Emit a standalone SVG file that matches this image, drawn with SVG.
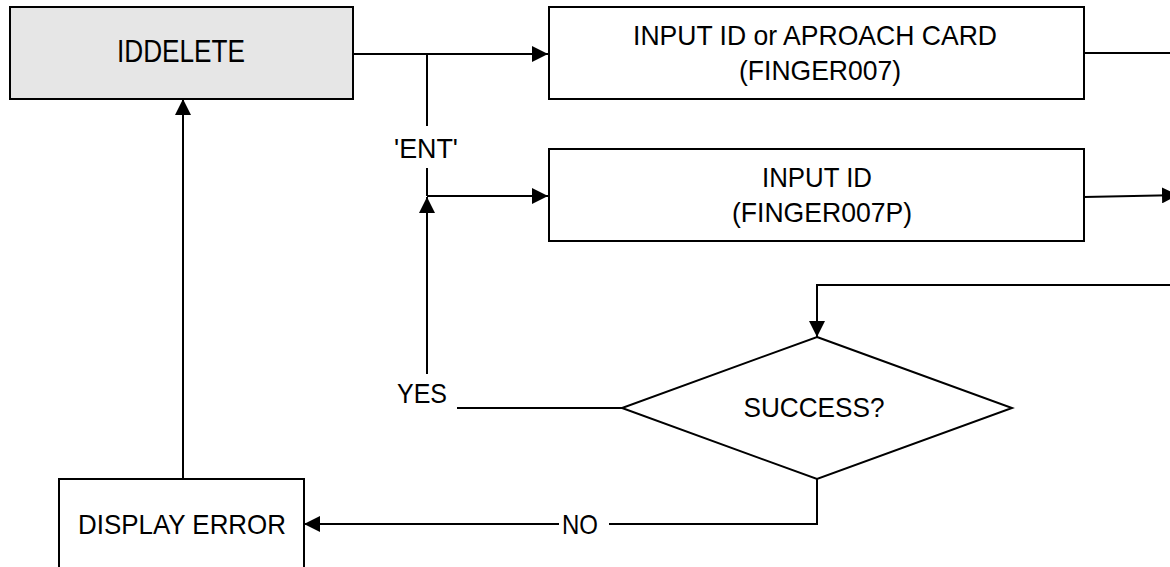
<svg xmlns="http://www.w3.org/2000/svg" width="1170" height="567" viewBox="0 0 1170 567">
<style>
.box{fill:#fff;stroke:#000;stroke-width:2}
.start{fill:#e6e6e6;stroke:#000;stroke-width:2}
.t{font-family:"Liberation Sans",Arial,sans-serif;font-size:28px;fill:#000;text-anchor:middle}
.c{fill:none;stroke:#000;stroke-width:2}
</style>
<defs>
<marker id="arr" markerUnits="userSpaceOnUse" markerWidth="16" markerHeight="16" refX="16" refY="8" orient="auto">
<path d="M0,0 L16,8 L0,16 z" fill="#000"/>
</marker>
</defs>
<rect width="1170" height="567" fill="#fff"/>
<g id="connectors">
<path class="c" d="M353,54 H548" marker-end="url(#arr)"/>
<path class="c" d="M427,54 V126"/>
<path class="c" d="M427,168 V196"/>
<path class="c" d="M427,196 H548" marker-end="url(#arr)"/>
<path class="c" d="M1084,53 H1170"/>
<path class="c" d="M1084,197 L1178,195" marker-end="url(#arr)"/>
<path class="c" d="M1170,285 H817 V337" marker-end="url(#arr)"/>
<path class="c" d="M622,408 H457"/>
<path class="c" d="M427,374 V197" marker-end="url(#arr)"/>
<path class="c" d="M817,479 V524 H609"/>
<path class="c" d="M559,524 H304" marker-end="url(#arr)"/>
<path class="c" d="M183,479 V99" marker-end="url(#arr)"/>
<text class="t" x="426" y="158" textLength="64" lengthAdjust="spacingAndGlyphs">'ENT'</text>
<text class="t" x="422" y="403" textLength="50" lengthAdjust="spacingAndGlyphs">YES</text>
<text class="t" x="580" y="534" textLength="36" lengthAdjust="spacingAndGlyphs">NO</text>
</g>
<g id="iddelete">
<rect class="start" x="10" y="7" width="343" height="92"/>
<text class="t" x="181" y="62" style="font-size:31px" textLength="128" lengthAdjust="spacingAndGlyphs">IDDELETE</text>
</g>
<g id="input-id-card">
<rect class="box" x="549" y="7" width="535" height="92"/>
<text class="t" x="815" y="45" textLength="364" lengthAdjust="spacingAndGlyphs">INPUT ID or APROACH CARD</text>
<text class="t" x="820" y="80" textLength="162" lengthAdjust="spacingAndGlyphs">(FINGER007)</text>
</g>
<g id="input-id">
<rect class="box" x="549" y="149" width="535" height="92"/>
<text class="t" x="817" y="187" textLength="110" lengthAdjust="spacingAndGlyphs">INPUT ID</text>
<text class="t" x="822" y="222" textLength="180" lengthAdjust="spacingAndGlyphs">(FINGER007P)</text>
</g>
<g id="success">
<polygon class="box" points="817,337 1012,408 817,479 622,408"/>
<text class="t" x="814" y="417" textLength="141" lengthAdjust="spacingAndGlyphs">SUCCESS?</text>
</g>
<g id="display-error">
<rect class="box" x="59" y="479" width="245" height="100"/>
<text class="t" x="182" y="534" textLength="208" lengthAdjust="spacingAndGlyphs">DISPLAY ERROR</text>
</g>
</svg>
